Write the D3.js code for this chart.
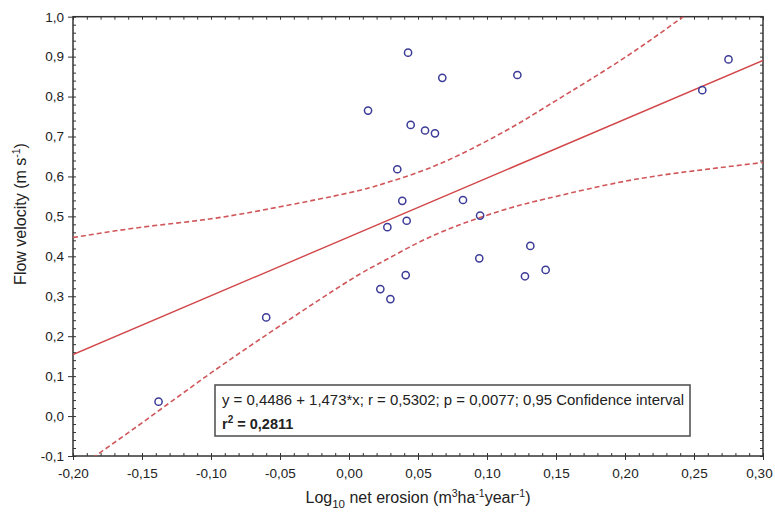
<!DOCTYPE html>
<html>
<head>
<meta charset="utf-8">
<script src="https://cdn.jsdelivr.net/npm/d3@7"></script>
<style>
  body { margin: 0; background: #fff; }
  svg { display: block; font-family: "Liberation Sans", Arial, sans-serif; }
</style>
</head>
<body>
<svg id="chart" width="775" height="515"></svg>
<script>
// data
let erosion  = [-0.138, -0.060, 0.0428, 0.0676, 0.0138, 0.0447, 0.0551, 0.0623, 0.035, 0.0386, 0.0826, 0.0418,
                0.095, 0.0278, 0.1314, 0.0944, 0.0411, 0.1425, 0.1275, 0.0227, 0.030, 0.275, 0.256, 0.122]
let velocity = [0.036, 0.247, 0.910, 0.847, 0.765, 0.729, 0.715, 0.708, 0.618, 0.539, 0.541, 0.489,
                0.502, 0.473, 0.426, 0.395, 0.353, 0.366, 0.350, 0.318, 0.293, 0.893, 0.816, 0.854]

// regression from the caption
let intercept = 0.4486
let slope = 1.473

// 0,95 confidence band
let bandX     = [-0.20, -0.15, -0.10, -0.05, 0.00, 0.025, 0.05, 0.075, 0.10, 0.125, 0.15, 0.20, 0.25, 0.30]
let bandUpper = [0.447, 0.473, 0.494, 0.524, 0.559, 0.582, 0.610, 0.646, 0.689, 0.737, 0.790, 0.898, 1.020, 1.147]
let bandLower = [-0.139, -0.017, 0.108, 0.226, 0.339, 0.388, 0.434, 0.472, 0.503, 0.529, 0.550, 0.588, 0.614, 0.635]

let xTicks = [-0.20, -0.15, -0.10, -0.05, 0.00, 0.05, 0.10, 0.15, 0.20, 0.25, 0.30]
let yTicks = [-0.1, 0.0, 0.1, 0.2, 0.3, 0.4, 0.5, 0.6, 0.7, 0.8, 0.9, 1.0]

let svg = d3.select('#chart')

let plotLeft = 73, plotRight = 763, plotTop = 16.7, plotBottom = 456

let x = d3.scaleLinear().domain([-0.2, 0.3]).range([plotLeft, plotRight])
let y = d3.scaleLinear().domain([-0.1, 1.0]).range([plotBottom, plotTop])

let loc = d3.formatLocale({decimal: ',', thousands: '.', grouping: [3], currency: ['', ''], minus: '-'})
let fx = loc.format('.2f')
let fy = loc.format('.1f')

// clip for the lines
svg.append('clipPath').attr('id', 'plot')
   .append('rect')
   .attr('x', plotLeft).attr('y', plotTop)
   .attr('width', plotRight - plotLeft).attr('height', plotBottom - plotTop)

let axisColor = '#333'

// minor ticks (inside)
let minorX = d3.range(-20, 31).map(d => d / 100)
let minorY = d3.range(-5, 51).map(d => d / 50)

svg.append('g')
   .attr('transform', 'translate(0,' + plotBottom + ')')
   .call(d3.axisTop(x).tickValues(minorX).tickSize(3).tickFormat(''))
svg.append('g')
   .attr('transform', 'translate(0,' + plotTop + ')')
   .call(d3.axisBottom(x).tickValues(minorX).tickSize(3).tickFormat(''))
svg.append('g')
   .attr('transform', 'translate(' + plotLeft + ',0)')
   .call(d3.axisRight(y).tickValues(minorY).tickSize(3).tickFormat(''))
svg.append('g')
   .attr('transform', 'translate(' + plotRight + ',0)')
   .call(d3.axisLeft(y).tickValues(minorY).tickSize(3).tickFormat(''))

// major ticks + labels
let xAxis = svg.append('g')
   .attr('transform', 'translate(0,' + plotBottom + ')')
   .call(d3.axisBottom(x).tickValues(xTicks).tickSize(4).tickPadding(8).tickFormat(fx))
svg.append('g')
   .attr('transform', 'translate(' + plotLeft + ',0)')
   .call(d3.axisLeft(y).tickValues(yTicks).tickSize(5).tickPadding(4).tickFormat(fy))

svg.selectAll('.domain').remove()
svg.selectAll('.tick line').attr('stroke', axisColor).attr('stroke-width', 1)
svg.selectAll('.tick text')
   .attr('fill', '#222')
   .style('font-size', '13.5px')
   .style('font-family', '"Liberation Sans", Arial, sans-serif')

// last x label sits against the edge
xAxis.selectAll('.tick text').filter((d) => d === 0.30).attr('dx', -4)

// frame
svg.append('rect')
   .attr('x', plotLeft).attr('y', plotTop)
   .attr('width', plotRight - plotLeft).attr('height', plotBottom - plotTop)
   .attr('fill', 'none')
   .attr('stroke', axisColor)
   .attr('stroke-width', 1.5)

// lines
let lines = svg.append('g').attr('clip-path', 'url(#plot)')

lines.append('line')
   .attr('x1', x(-0.2)).attr('y1', y(intercept + slope * -0.2))
   .attr('x2', x(0.3)).attr('y2', y(intercept + slope * 0.3))
   .attr('stroke', '#d2474a')
   .attr('stroke-width', 1.4)

let bandLine = (vals) => d3.line()
   .x((d, i) => x(bandX[i]))
   .y((d, i) => y(vals[i]))
   .curve(d3.curveNatural)(vals)

lines.append('path')
   .attr('d', bandLine(bandUpper))
   .attr('fill', 'none')
   .attr('stroke', '#d0565a')
   .attr('stroke-width', 1.6)
   .attr('stroke-dasharray', '5,3')
lines.append('path')
   .attr('d', bandLine(bandLower))
   .attr('fill', 'none')
   .attr('stroke', '#d0565a')
   .attr('stroke-width', 1.6)
   .attr('stroke-dasharray', '5,3')

// points
svg.append('g').selectAll('circle')
   .data(erosion)
   .enter()
   .append('circle')
   .attr('cx', (d) => x(d))
   .attr('cy', (d, i) => y(velocity[i]))
   .attr('r', 3.6)
   .attr('fill', 'none')
   .attr('stroke', '#3c3c98')
   .attr('stroke-width', 1.5)

// stats box
let box = svg.append('g')
box.append('rect')
   .attr('x', 215).attr('y', 385)
   .attr('width', 475).attr('height', 51)
   .attr('fill', '#fff')
   .attr('stroke', '#555')
   .attr('stroke-width', 1.6)
box.append('text')
   .attr('x', 222).attr('y', 405)
   .style('font-size', '14.5px')
   .attr('fill', '#222')
   .attr('textLength', 462)
   .attr('lengthAdjust', 'spacingAndGlyphs')
   .text('y = 0,4486 + 1,473*x;  r = 0,5302; p = 0,0077; 0,95 Confidence interval')
let r2 = box.append('text')
   .attr('x', 222).attr('y', 429)
   .style('font-size', '14.5px')
   .style('font-weight', 'bold')
   .attr('fill', '#222')
r2.append('tspan').text('r')
r2.append('tspan').attr('dy', -6).style('font-size', '10px').text('2')
r2.append('tspan').attr('dy', 6).text(' = 0,2811')

// axis titles
let yt = svg.append('text')
   .attr('transform', 'translate(26,214) rotate(-90)')
   .attr('text-anchor', 'middle')
   .style('font-size', '16px')
   .attr('fill', '#222')
yt.append('tspan').text('Flow velocity (m s')
yt.append('tspan').attr('dy', -6).style('font-size', '10.5px').text('-1')
yt.append('tspan').attr('dy', 6).text(')')

let xt = svg.append('text')
   .attr('x', 418).attr('y', 503)
   .attr('text-anchor', 'middle')
   .style('font-size', '16px')
   .attr('fill', '#222')
xt.append('tspan').text('Log')
xt.append('tspan').attr('dy', 5).style('font-size', '11.5px').text('10')
xt.append('tspan').attr('dy', -5).text(' net erosion (m')
xt.append('tspan').attr('dy', -6).style('font-size', '10.5px').text('3')
xt.append('tspan').attr('dy', 6).text('ha')
xt.append('tspan').attr('dy', -6).style('font-size', '10.5px').text('-1')
xt.append('tspan').attr('dy', 6).text('year')
xt.append('tspan').attr('dy', -6).style('font-size', '10.5px').text('-1')
xt.append('tspan').attr('dy', 6).text(')')
</script>
</body>
</html>
